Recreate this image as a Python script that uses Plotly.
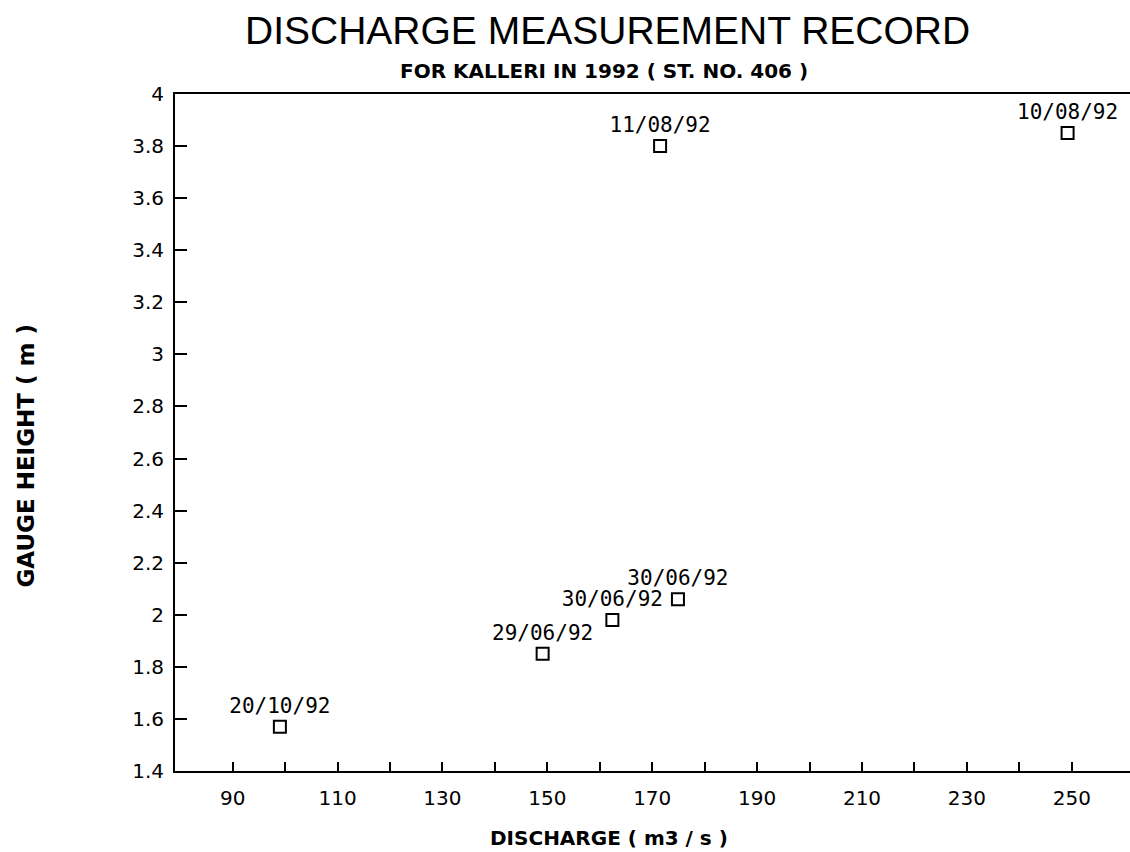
import plotly.graph_objects as go

# ---- data ----
discharge = [99.0, 149.1, 162.4, 174.9, 171.5, 249.2]
gauge_height = [1.57, 1.85, 1.98, 2.06, 3.80, 3.85]
dates = ["20/10/92", "29/06/92", "30/06/92", "30/06/92", "11/08/92", "10/08/92"]

x_tick_vals = [90, 100, 110, 120, 130, 140, 150, 160, 170, 180, 190, 200, 210, 220, 230, 240, 250]
x_tick_text = ["90", "", "110", "", "130", "", "150", "", "170", "", "190", "", "210", "", "230", "", "250"]
y_tick_vals = [1.4, 1.6, 1.8, 2.0, 2.2, 2.4, 2.6, 2.8, 3.0, 3.2, 3.4, 3.6, 3.8, 4.0]
y_tick_text = ["1.4", "1.6", "1.8", "2", "2.2", "2.4", "2.6", "2.8", "3", "3.2", "3.4", "3.6", "3.8", "4"]

title_text = "DISCHARGE MEASUREMENT RECORD"
subtitle_text = "FOR KALLERI IN 1992 ( ST. NO. 406 )"
x_title = "DISCHARGE ( m3 / s )"
y_title = "GAUGE HEIGHT ( m )"

fig = go.Figure()
fig.add_trace(go.Scatter(
    x=discharge, y=gauge_height, text=dates,
    mode="markers+text", textposition="top center",
    textfont=dict(family="DejaVu Sans Mono", size=21, color="black"),
    marker=dict(symbol="square-open", size=12, color="black", line=dict(width=2, color="black")),
    cliponaxis=False, showlegend=False,
))

fig.update_layout(
    width=1130, height=852,
    margin=dict(l=175, r=0, t=94, b=81),
    paper_bgcolor="white", plot_bgcolor="white",
    xaxis=dict(
        range=[79.0, 261.1], tickmode="array", tickvals=x_tick_vals, ticktext=x_tick_text,
        ticks="inside", ticklen=9, tickwidth=2, tickcolor="black",
        showline=True, linecolor="black", linewidth=2, mirror=True,
        showgrid=False, zeroline=False, ticklabelstandoff=8,
        tickfont=dict(family="DejaVu Sans", size=20, color="black"),
    ),
    yaxis=dict(
        range=[1.4, 4.0], tickmode="array", tickvals=y_tick_vals, ticktext=y_tick_text,
        ticks="inside", ticklen=12, tickwidth=2, tickcolor="black",
        showline=True, linecolor="black", linewidth=2,
        showgrid=False, zeroline=False, ticklabelstandoff=5,
        tickfont=dict(family="DejaVu Sans", size=20, color="black"),
    ),
    annotations=[
        dict(text=title_text, xref="paper", yref="paper", x=0.453, y=1.0935,
             xanchor="center", yanchor="middle", showarrow=False,
             font=dict(family="Liberation Sans", size=39, color="black")),
        dict(text=subtitle_text, xref="paper", yref="paper", x=0.449, y=1.034,
             xanchor="center", yanchor="middle", showarrow=False,
             font=dict(family="DejaVu Sans", size=20, color="black", weight="bold")),
        dict(text=x_title, xref="paper", yref="paper", x=0.454, y=-0.099,
             xanchor="center", yanchor="middle", showarrow=False,
             font=dict(family="DejaVu Sans", size=20, color="black", weight="bold")),
        dict(text=y_title, xref="paper", yref="paper", x=-0.157, y=0.466,
             xanchor="center", yanchor="middle", showarrow=False, textangle=-90,
             font=dict(family="DejaVu Sans", size=23, color="black", weight="bold")),
    ],
)

fig.write_html("out.html", config={"displayModeBar": False},
               post_script="document.body.style.margin='0';document.body.style.overflow='hidden';")
